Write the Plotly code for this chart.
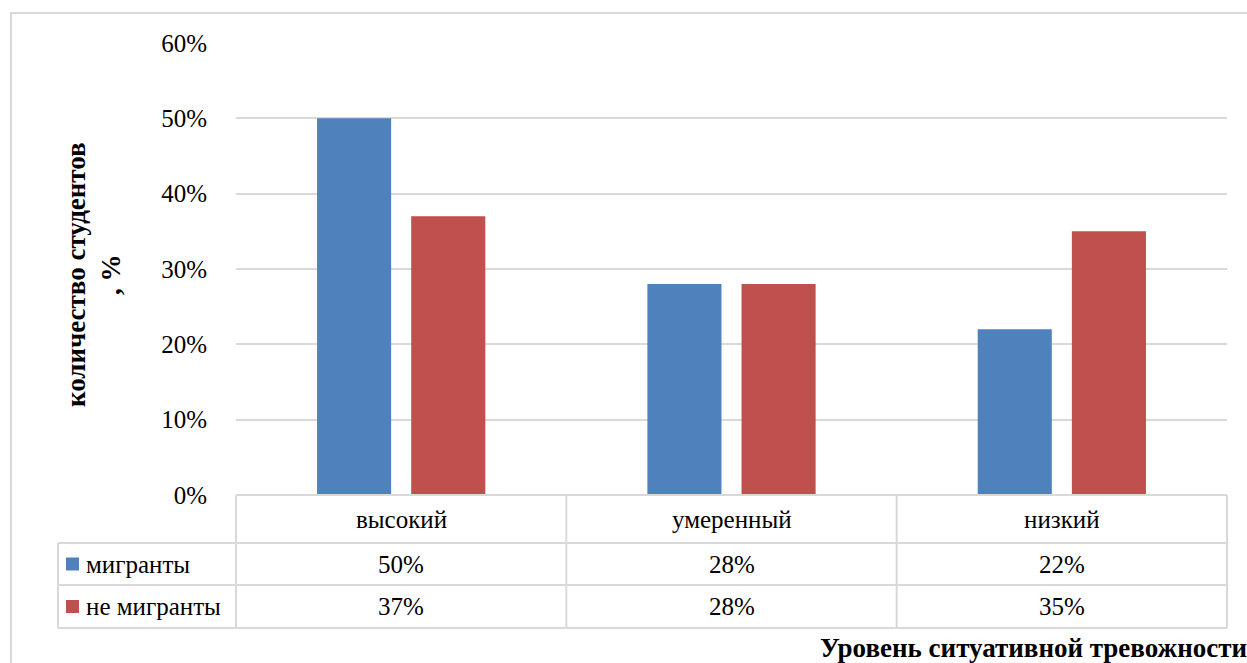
import plotly.graph_objects as go

W, H = 1247, 663

categories = ["высокий", "умеренный", "низкий"]
series_names = ["мигранты", "не мигранты"]
migrants = [50, 28, 22]
non_migrants = [37, 28, 35]
y_ticks = [0, 10, 20, 30, 40, 50, 60]
y_tick_labels = ["0%", "10%", "20%", "30%", "40%", "50%", "60%"]
y_title = "количество студентов<br>, %"
x_title = "Уровень ситуативной тревожности"

colors = ["#4F81BD", "#C0504D"]
grid = "#D9D9D9"
FONT = "Liberation Serif, Times New Roman, DejaVu Serif, serif"


def px(x):
    return x / W


def py(y):
    return 1 - y / H


series_vals = [migrants, non_migrants]

fig = go.Figure()
for name, vals, c in zip(series_names, series_vals, colors):
    fig.add_trace(go.Bar(x=categories, y=vals, name=name, marker_color=c,
                         marker_line_width=0, showlegend=False))

plot_l, plot_r, plot_t, plot_b = 236, 1227, 43, 495
rows = [495, 543, 585, 628]
leg_l = 58

shapes = []
shapes.append(dict(type="rect", xref="paper", yref="paper",
                   x0=px(11), x1=px(1270), y0=py(13), y1=py(690),
                   line=dict(color=grid, width=2), fillcolor="rgba(0,0,0,0)"))
for i, yv in enumerate(rows):
    x0 = plot_l if i == 0 else leg_l
    shapes.append(dict(type="line", xref="paper", yref="paper",
                       x0=px(x0), x1=px(plot_r), y0=py(yv), y1=py(yv),
                       line=dict(color=grid, width=2)))
shapes.append(dict(type="line", xref="paper", yref="paper",
                   x0=px(leg_l), x1=px(leg_l), y0=py(rows[1]), y1=py(rows[3]),
                   line=dict(color=grid, width=2)))
ncat = len(categories)
colw = (plot_r - plot_l) / ncat
for k in range(ncat + 1):
    xv = plot_l + k * colw
    shapes.append(dict(type="line", xref="paper", yref="paper",
                       x0=px(xv), x1=px(xv), y0=py(rows[0]), y1=py(rows[3]),
                       line=dict(color=grid, width=2)))
for j, c in enumerate(colors):
    yc = (rows[j + 1] + rows[j + 2]) / 2
    shapes.append(dict(type="rect", xref="paper", yref="paper",
                       x0=px(66), x1=px(79), y0=py(yc - 6.5), y1=py(yc + 6.5),
                       line=dict(width=0), fillcolor=c))

annotations = []
fs = 25
fb = 27
for i, cat in enumerate(categories):
    annotations.append(dict(x=cat, xref="x", y=py((rows[0] + rows[1]) / 2), yref="paper",
                            text=cat, showarrow=False, font=dict(family=FONT, size=fs, color="black"),
                            xanchor="center", yanchor="middle"))
    for j, vals in enumerate(series_vals):
        yc = (rows[j + 1] + rows[j + 2]) / 2
        annotations.append(dict(x=cat, xref="x", y=py(yc), yref="paper",
                                text=f"{vals[i]}%", showarrow=False,
                                font=dict(family=FONT, size=fs, color="black"),
                                xanchor="center", yanchor="middle"))
for j, name in enumerate(series_names):
    yc = (rows[j + 1] + rows[j + 2]) / 2
    annotations.append(dict(x=px(84), xref="paper", y=py(yc), yref="paper",
                            text=name, showarrow=False,
                            font=dict(family=FONT, size=fs, color="black"),
                            xanchor="left", yanchor="middle"))
annotations.append(dict(x=px(93), xref="paper", y=py(275), yref="paper",
                        text=y_title, showarrow=False, textangle=-90,
                        font=dict(family=FONT, size=fb, color="black", weight="bold"),
                        xanchor="center", yanchor="middle"))
annotations.append(dict(x=px(1249), xref="paper", y=py(648), yref="paper",
                        text=x_title, showarrow=False,
                        font=dict(family=FONT, size=fb, color="black", weight="bold"),
                        xanchor="right", yanchor="middle"))

fig.update_layout(
    width=W, height=H,
    margin=dict(l=0, r=0, t=0, b=0, pad=0, autoexpand=False),
    paper_bgcolor="white", plot_bgcolor="white",
    barmode="group", bargap=0.43, bargroupgap=0.213,
    xaxis=dict(domain=[px(plot_l), px(plot_r)], range=[-0.5, 2.5], automargin=False,
               showticklabels=False, showgrid=False, zeroline=False, showline=False,
               ticks=""),
    yaxis=dict(domain=[py(plot_b), py(plot_t)], range=[0, 60], automargin=False,
               tickvals=y_ticks, ticktext=y_tick_labels,
               tickfont=dict(family=FONT, size=fs, color="black"),
               showgrid=True, gridcolor=grid, gridwidth=2,
               zeroline=False, showline=False, ticks="", ticklabelstandoff=28),
    shapes=shapes, annotations=annotations,
)

fig.write_html("out.html")
